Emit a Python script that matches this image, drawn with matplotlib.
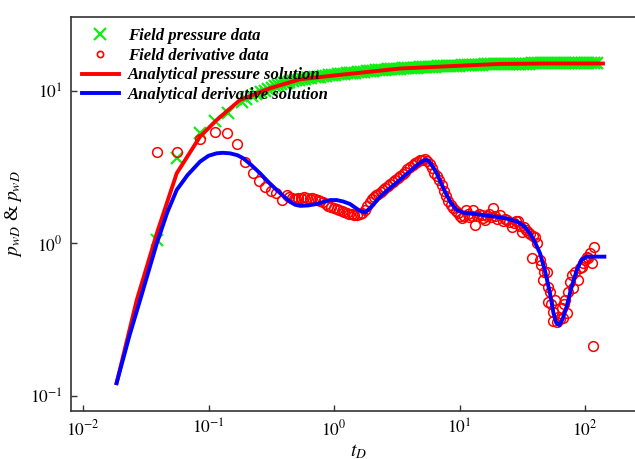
import numpy as np
import matplotlib
matplotlib.use("Agg")
import matplotlib.pyplot as plt
from matplotlib.lines import Line2D

plt.rcParams['font.family'] = 'serif'
plt.rcParams['font.serif'] = ['Liberation Serif', 'DejaVu Serif']
plt.rcParams['mathtext.fontset'] = 'stix'

# field pressure data (green x)
t_fp = [0.0386, 0.0558, 0.0855, 0.113, 0.144, 0.184, 0.20, 0.22, 0.24, 0.26,
        0.28, 0.30, 0.32, 0.34, 0.36, 0.38, 0.40, 0.42, 0.44, 0.47,
        0.50, 0.53, 0.56, 0.59, 0.62, 0.66, 0.70, 0.74, 0.78, 0.82,
        0.86, 0.91, 0.96, 1.01, 1.07, 1.13, 1.19, 1.26, 1.33, 1.40,
        1.48, 1.56, 1.65, 1.74, 1.84, 1.94, 2.05, 2.16, 2.28, 2.41,
        2.54, 2.68, 2.83, 2.99, 3.16, 3.33, 3.52, 3.71, 3.92, 4.14,
        4.37, 4.61, 4.87, 5.14, 5.42, 5.72, 6.04, 6.38, 6.73, 7.11,
        7.50, 7.92, 8.36, 8.82, 9.31, 9.83, 10.4, 11.0, 11.6, 12.2,
        12.9, 13.6, 14.4, 15.2, 16.0, 16.9, 17.8, 18.8, 19.9, 21.0,
        22.2, 23.4, 24.7, 26.1, 27.5, 29.0, 30.6, 32.3, 34.1, 36.0,
        38.0, 40.1, 42.4, 44.7, 47.2, 49.8, 52.6, 55.5, 58.6, 61.8,
        65.3, 68.9, 72.7, 76.8, 81.0, 85.5, 90.3, 95.3, 100.6, 106.2,
        112.1, 118.3, 124.9]
p_fp = [1.05, 3.61, 5.27, 6.37, 7.12, 8.48, 8.8, 9.2, 9.5, 9.8,
        10.0, 10.3, 10.5, 10.7, 10.9, 11.0, 11.2, 11.3, 11.4, 11.6,
        11.7, 11.8, 11.9, 12.0, 12.1, 12.2, 12.3, 12.35, 12.4, 12.5,
        12.55, 12.6, 12.7, 12.75, 12.8, 12.9, 12.95, 13.0, 13.05, 13.1,
        13.15, 13.2, 13.3, 13.35, 13.4, 13.45, 13.5, 13.6, 13.6, 13.7,
        13.75, 13.8, 13.85, 13.9, 14.0, 14.0, 14.05, 14.1, 14.1, 14.15,
        14.2, 14.2, 14.25, 14.3, 14.3, 14.35, 14.4, 14.4, 14.45, 14.5,
        14.5, 14.55, 14.55, 14.6, 14.6, 14.65, 14.7, 14.7, 14.75, 14.75,
        14.8, 14.8, 14.85, 14.85, 14.9, 14.9, 14.9, 14.95, 15.0, 15.0,
        15.0, 15.0, 15.05, 15.05, 15.05, 15.1, 15.1, 15.1, 15.1, 15.1,
        15.15, 15.15, 15.15, 15.15, 15.2, 15.2, 15.2, 15.2, 15.2, 15.2,
        15.2, 15.2, 15.25, 15.25, 15.25, 15.25, 15.25, 15.25, 15.3, 15.3,
        15.3, 15.3, 15.3]

# field derivative data (red circles)
t_fd = [0.0386, 0.0564, 0.0855, 0.113, 0.140, 0.170, 0.195, 0.225, 0.254, 0.282,
        0.313, 0.345, 0.383, 0.42, 0.44, 0.46, 0.48, 0.50, 0.52, 0.55,
        0.58, 0.61, 0.64, 0.67, 0.70, 0.74, 0.78, 0.82, 0.86, 0.90,
        0.95, 1.00, 1.05, 1.10, 1.15, 1.20, 1.26, 1.32, 1.38, 1.45,
        1.52, 1.60, 1.68, 1.76, 1.84, 1.92, 2.00, 2.08, 2.16, 2.25,
        2.35, 2.45, 2.56, 2.68, 2.80, 2.93, 3.07, 3.21, 3.36, 3.52,
        3.68, 3.85, 4.03, 4.22, 4.42, 4.62, 4.84, 5.06, 5.30, 5.55,
        5.80, 6.05, 6.30, 6.60, 6.90, 7.20, 7.50, 7.80, 8.10, 8.50,
        8.90, 9.30, 9.70, 10.1, 10.5, 10.8, 11.2, 11.6, 12.0, 12.5,
        12.9, 13.3, 13.8, 14.3, 15.0, 15.5, 15.9, 16.5, 17.2, 17.9,
        18.6, 19.3, 20.0, 21.0, 22.3, 23.2, 24.1, 25.0, 26.0, 27.0,
        28.2, 29.4, 30.3, 31.3, 32.5, 33.9, 35.4, 36.7, 37.6, 38.3,
        40.0, 41.2, 43.8, 45.0, 46.5, 47.5, 49.5, 50.5, 51.0, 52.6,
        54.0, 55.4, 56.0, 57.7, 59.4, 61.0, 63.0, 65.2, 66.4, 68.5,
        69.3, 71.4, 73.6, 75.5, 78.3, 80.0, 83.2, 88.5, 91.2, 94.0,
        97.0, 100.0, 103.0, 106.0, 110.0, 113.0, 116.5, 118.6]
dp_fd = [3.95, 3.99, 4.81, 5.39, 5.26, 4.46, 3.40, 2.88, 2.56, 2.35,
         2.21, 2.13, 1.92, 2.07, 2.02, 1.98, 1.96, 1.95, 1.97, 1.99,
         2.01, 1.98, 1.96, 1.97, 1.95, 1.93, 1.90, 1.86, 1.80, 1.76,
         1.72, 1.70, 1.67, 1.65, 1.62, 1.60, 1.58, 1.56, 1.55, 1.54,
         1.53, 1.55, 1.58, 1.66, 1.76, 1.86, 1.95, 2.02, 2.08, 2.12,
         2.16, 2.22, 2.30, 2.38, 2.45, 2.52, 2.60, 2.68, 2.77, 2.86,
         2.95, 3.05, 3.15, 3.25, 3.35, 3.43, 3.50, 3.53, 3.55, 3.45,
         3.30, 3.10, 2.90, 2.75, 2.60, 2.40, 2.20, 2.05, 1.90, 1.78,
         1.70, 1.62, 1.57, 1.52, 1.46, 1.50, 1.65, 1.55, 1.48, 1.52,
         1.65, 1.32, 1.50, 1.55, 1.53, 1.47, 1.42, 1.50, 1.55, 1.48,
         1.70, 1.50, 1.45, 1.53, 1.39, 1.45, 1.42, 1.38, 1.28, 1.35,
         1.40, 1.39, 1.30, 1.19, 1.27, 1.22, 1.19, 1.15, 0.80, 1.12,
         1.10, 1.00, 0.78, 0.72, 0.575, 0.65, 0.652, 0.52, 0.414, 0.48,
         0.40, 0.31, 0.356, 0.425, 0.306, 0.33, 0.32, 0.375, 0.322, 0.40,
         0.425, 0.347, 0.48, 0.56, 0.62, 0.507, 0.652, 0.575, 0.686, 0.70,
         0.74, 0.78, 0.817, 0.80, 0.86, 0.746, 0.212, 0.95]

# analytical pressure solution (red line)
t_ap = [0.0185, 0.0268, 0.0387, 0.0558, 0.0855, 0.116, 0.178, 0.31, 0.536, 1.0,
        3.36, 10.0, 21.0, 50.0, 139.0]
p_ap = [0.121, 0.425, 1.16, 2.88, 5.0, 6.43, 8.7, 10.4, 11.9, 12.6,
        14.0, 14.6, 15.0, 15.1, 15.1]

# analytical derivative solution (blue line)
t_ad = [0.0185, 0.0235, 0.0285, 0.0387, 0.047, 0.0558, 0.068, 0.0855, 0.10, 0.116,
        0.13, 0.148, 0.17, 0.189, 0.22, 0.257, 0.30, 0.349, 0.40, 0.446,
        0.49, 0.536, 0.62, 0.728, 0.83, 0.929, 1.05, 1.18, 1.34, 1.48,
        1.61, 1.77, 2.0, 2.33, 2.7, 3.16, 3.7, 4.29, 4.8, 5.31,
        5.6, 5.82, 6.2, 6.58, 7.1, 7.66, 8.5, 9.5, 10.7, 12.1,
        15.5, 19.8, 24.0, 28.6, 32.5, 36.5, 40.0, 43.8, 48.0, 52.6,
        56.0, 59.0, 62.6, 66.4, 71.4, 78.3, 86.0, 94.0, 103.0, 142.6]
dp_ad = [0.121, 0.25, 0.425, 1.0, 1.6, 2.24, 2.8, 3.43, 3.75, 3.89,
         3.92, 3.89, 3.78, 3.61, 3.25, 2.88, 2.52, 2.24, 2.02, 1.87,
         1.79, 1.76, 1.77, 1.81, 1.87, 1.92, 1.92, 1.88, 1.81, 1.71,
         1.63, 1.59, 1.75, 2.02, 2.25, 2.50, 2.80, 3.10, 3.35, 3.52,
         3.50, 3.38, 3.12, 2.88, 2.50, 2.18, 1.85, 1.65, 1.59, 1.57,
         1.53, 1.49, 1.45, 1.39, 1.30, 1.16, 1.01, 0.86, 0.66, 0.47,
         0.35, 0.30, 0.29, 0.32, 0.384, 0.52, 0.668, 0.78, 0.817, 0.817]

fig = plt.figure(figsize=(6.35, 4.59), dpi=100)
ax = fig.add_axes([71 / 635, 1 - 410.7 / 459, 575 / 635, 393.4 / 459])

ax.plot(t_fp, p_fp, 'x', color='#11ee11', ms=8.5, mew=1.6, zorder=2)
ax.plot(t_fd, dp_fd, 'o', mfc='none', mec='red', ms=7, mew=1.1, zorder=3)
ax.plot(t_ap, p_ap, '-', color='red', lw=2.8, zorder=4)
ax.plot(t_ad, dp_ad, '-', color='blue', lw=2.8, zorder=4)

ax.set_xscale('log')
ax.set_yscale('log')
ax.set_xlim(10 ** -2.096, 10 ** 2.486)
ax.set_ylim(10 ** -1.098, 10 ** 1.482)
ax.minorticks_off()
ax.set_xticks([1e-2, 1e-1, 1e0, 1e1, 1e2])
ax.set_xticklabels(['$10^{-2}$', '$10^{-1}$', '$10^{0}$', '$10^{1}$', '$10^{2}$'])
ax.set_yticks([1e-1, 1e0, 1e1])
ax.set_yticklabels(['$10^{-1}$', '$10^{0}$', '$10^{1}$'])
ax.tick_params(direction='in', length=4, width=1, labelsize=12.5, pad=6, colors='#333333', labelcolor='black')
for s in ax.spines.values():
    s.set_color('#333333')
    s.set_linewidth(1.2)

ax.set_xlabel('$t_D$', fontsize=14, labelpad=2)
ax.set_ylabel('$p_{wD}$ & $p_{wD}$', fontsize=14, labelpad=4)

handles = [
    Line2D([], [], ls='none', marker='x', color='#11ee11', ms=8, mew=1.6),
    Line2D([], [], ls='none', marker='o', mfc='none', mec='red', ms=4.5, mew=1.2),
    Line2D([], [], color='red', lw=2.8),
    Line2D([], [], color='blue', lw=2.8),
]
labels = ['Field pressure data', 'Field derivative data',
          'Analytical pressure solution', 'Analytical derivative solution']
ax.legend(handles, labels, loc='upper left', frameon=False,
          prop={'family': 'Liberation Serif', 'weight': 'bold', 'style': 'italic', 'size': 12},
          handlelength=2.2, handletextpad=0.55, labelspacing=0.22,
          borderaxespad=0.25, bbox_to_anchor=(0.0, 1.0))

fig.savefig('out.png', dpi=100)
